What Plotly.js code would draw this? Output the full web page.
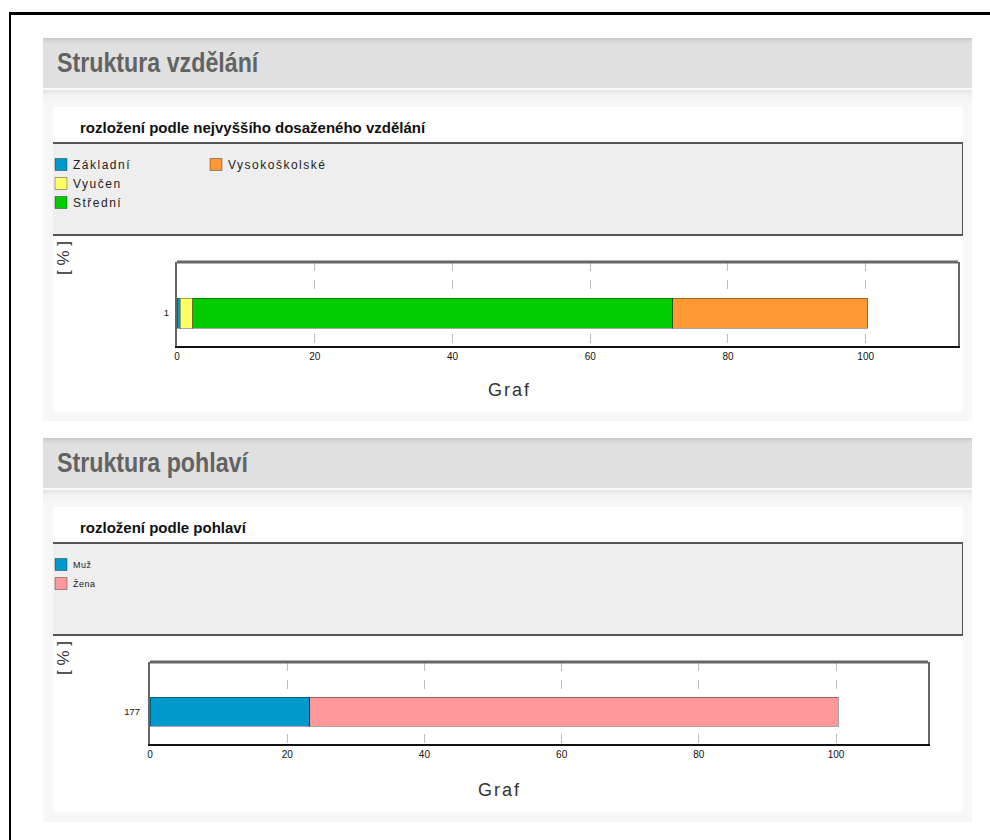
<!DOCTYPE html>
<html>
<head>
<meta charset="utf-8">
<script src="https://cdn.plot.ly/plotly-3.0.1.min.js"></script>
<style>
  html, body { margin:0; padding:0; background:#fff; width:990px; height:840px; overflow:hidden; }
  .frame { position:absolute; left:9px; top:12px; width:1000px; height:900px; border-left:2px solid #000; border-top:3px solid #000; }
  .hdr { position:absolute; left:43px; width:929px; height:50px;
         background:linear-gradient(#c4c4c4 0px, #d8d8d8 3px, #e0e0e0 6px, #e0e0e0 100%);
         border-bottom:2px solid #fafafa; }
  .hdr span { position:absolute; left:14px; top:10px; font-family:"Liberation Sans",Arial,sans-serif;
              font-size:27px; color:#636363; font-weight:bold; white-space:nowrap;
              transform:scaleX(0.86); transform-origin:0 0; }
  .panel { position:absolute; left:43px; width:929px; background:linear-gradient(#e4e4e4 0px, #f2f2f2 5px, #f7f7f7 12px, #f7f7f7 100%); }
  .chart { position:absolute; left:53px; width:910px; height:305px; background:#fff; }
</style>
</head>
<body>
<div class="frame"></div>

<div class="hdr" style="top:38px;"><span>Struktura vzdělání</span></div>
<div class="panel" style="top:90px; height:331px;"></div>
<div id="c1" class="chart" style="top:107px;"></div>

<div class="hdr" style="top:438px;"><span>Struktura pohlaví</span></div>
<div class="panel" style="top:490px; height:332px;"></div>
<div id="c2" class="chart" style="top:507px;"></div>

<script>
// ---------- data ----------
const eduCategory = ['1'];
const eduLabels = ['Základní', 'Vyučen', 'Střední', 'Vysokoškolské'];
const eduValues = [0.5, 1.8, 69.7, 28.3];
const eduColors = ['#0099cc', '#ffff66', '#00cc00', '#ff9933'];

const sexCategory = ['177'];
const sexLabels = ['Muž', 'Žena'];
const sexValues = [23.3, 77.0];
const sexColors = ['#0099cc', '#ff9999'];

const xTicks = [0, 20, 40, 60, 80, 100];

// ---------- helpers ----------
const W = 910, H = 305;
function makeChart(id, opt) {
  const m = opt.margin;
  const pw = W - m.l - m.r, ph = H - m.t - m.b;
  const px = x => (x - m.l) / pw;
  const py = y => 1 - (y - m.t) / ph;

  const traces = opt.labels.map((name, i) => ({
    type: 'bar', orientation: 'h',
    x: [opt.values[i]], y: opt.category, name: name,
    width: 0.5,
    marker: { color: opt.colors[i], line: { color: 'rgba(0,0,0,0.35)', width: 1 } },
    legend: (opt.legendOf ? opt.legendOf[i] : 'legend'),
    hoverinfo: 'x+name'
  }));

  const legendBase = {
    bgcolor: 'rgba(0,0,0,0)', borderwidth: 0, traceorder: 'normal',
    font: { family: 'Liberation Sans, Arial, sans-serif', size: opt.legendFont, color: '#222' },
    xref: 'paper', yref: 'paper', xanchor: 'left', yanchor: 'top', tracegroupgap: 0
  };

  const layout = {
    width: W, height: H,
    margin: { l: m.l, r: m.r, t: m.t, b: m.b, autoexpand: false },
    paper_bgcolor: '#fff', plot_bgcolor: '#fff',
    barmode: 'stack', bargap: 0,
    showlegend: true,
    title: {
      text: opt.title, xref: 'container', yref: 'container',
      x: 27 / W, y: 1 - 21 / H, xanchor: 'left', yanchor: 'middle',
      font: { family: 'Liberation Sans, Arial, sans-serif', size: 15, color: '#111', weight: 'bold' }
    },
    legend: Object.assign({}, legendBase, { x: px(-12), y: py(opt.legendTop) }),
    xaxis: {
      range: [0, 113.4], tickvals: xTicks, ticktext: xTicks.map(String),
      showgrid: true, gridcolor: '#bdbdbd', griddash: 'dash', gridwidth: 1,
      zeroline: false, showline: true, linecolor: '#111', linewidth: 2, mirror: false,
      ticks: '', tickfont: { family: 'Liberation Sans Narrow, Liberation Sans, Arial', size: 10, color: '#111' },
      fixedrange: true
    },
    yaxis: {
      type: 'category', range: [-0.55, 0.85],
      showgrid: false, zeroline: false, showline: true, linecolor: '#666', linewidth: 2, mirror: true,
      ticks: '', ticklabelstandoff: opt.yStandoff,
      tickfont: { family: 'Liberation Sans, Arial', size: 9.5, color: '#111' },
      fixedrange: true
    },
    shapes: [
      { type: 'rect', xref: 'paper', yref: 'paper', x0: px(-1), x1: px(910), y0: py(36), y1: py(128),
        fillcolor: '#eeeeee', line: { color: '#555', width: 2 }, layer: 'below' },
      { type: 'line', xref: 'paper', yref: 'paper', x0: 0, x1: 1, y0: 1, y1: 1,
        line: { color: '#666', width: 3 }, layer: 'above' }
    ],
    annotations: [
      { text: '[ % ]', xref: 'paper', yref: 'paper', x: px(10), y: py(151), textangle: -90,
        showarrow: false, xanchor: 'center', yanchor: 'middle',
        font: { family: 'Liberation Sans, Arial', size: 17, color: '#333' } },
      { text: 'Graf', xref: 'paper', yref: 'paper', x: px(opt.grafX), y: py(283),
        showarrow: false, xanchor: 'center', yanchor: 'middle',
        font: { family: 'Liberation Sans Narrow, Liberation Sans, Arial', size: 18, color: '#333' } }
    ]
  };
  if (opt.legend2X !== undefined) {
    layout.legend2 = Object.assign({}, legendBase, { x: px(opt.legend2X), y: py(opt.legendTop) });
  }
  const gdEl = document.getElementById(id);
  const SEL = 'text.legendtext, text.legend2text';
  const fix = () => {
    gdEl.querySelectorAll('g.annotation text').forEach(t => {
      if (t.textContent === 'Graf') t.style.letterSpacing = '2px';
    });
    gdEl.querySelectorAll(SEL).forEach(t => {
      t.setAttribute('x', 32);
      t.style.letterSpacing = opt.legendSpacing + 'px';
    });
    gdEl.querySelectorAll('g.scrollbox').forEach(g => g.removeAttribute('clip-path'));
  };
  return Plotly.newPlot(id, traces, layout, { displayModeBar: false, staticPlot: true }).then(() => {
    fix();
    setTimeout(fix, 0);
    setTimeout(fix, 100);
    setTimeout(fix, 400);
    const mo = new MutationObserver(() => {
      const need = Array.from(gdEl.querySelectorAll(SEL)).some(t => t.getAttribute('x') !== '32');
      if (need) fix();
    });
    mo.observe(gdEl, { subtree: true, childList: true, attributes: true, attributeFilter: ['x'] });
  });
}

makeChart('c1', {
  title: 'rozložení podle nejvyššího dosaženého vzdělání',
  category: eduCategory, labels: eduLabels, values: eduValues, colors: eduColors,
  legendOf: ['legend', 'legend', 'legend', 'legend2'], legend2X: 143,
  legendFont: 12, legendSpacing: 1.5, legendTop: 43,
  margin: { l: 124, r: 5, t: 155, b: 66 }, yStandoff: 4, grafX: 457
});

makeChart('c2', {
  title: 'rozložení podle pohlaví',
  category: sexCategory, labels: sexLabels, values: sexValues, colors: sexColors,
  legendFont: 9, legendSpacing: 0.5, legendTop: 43,
  margin: { l: 97, r: 35, t: 155, b: 68 }, yStandoff: 6, grafX: 447
});
</script>
</body>
</html>
